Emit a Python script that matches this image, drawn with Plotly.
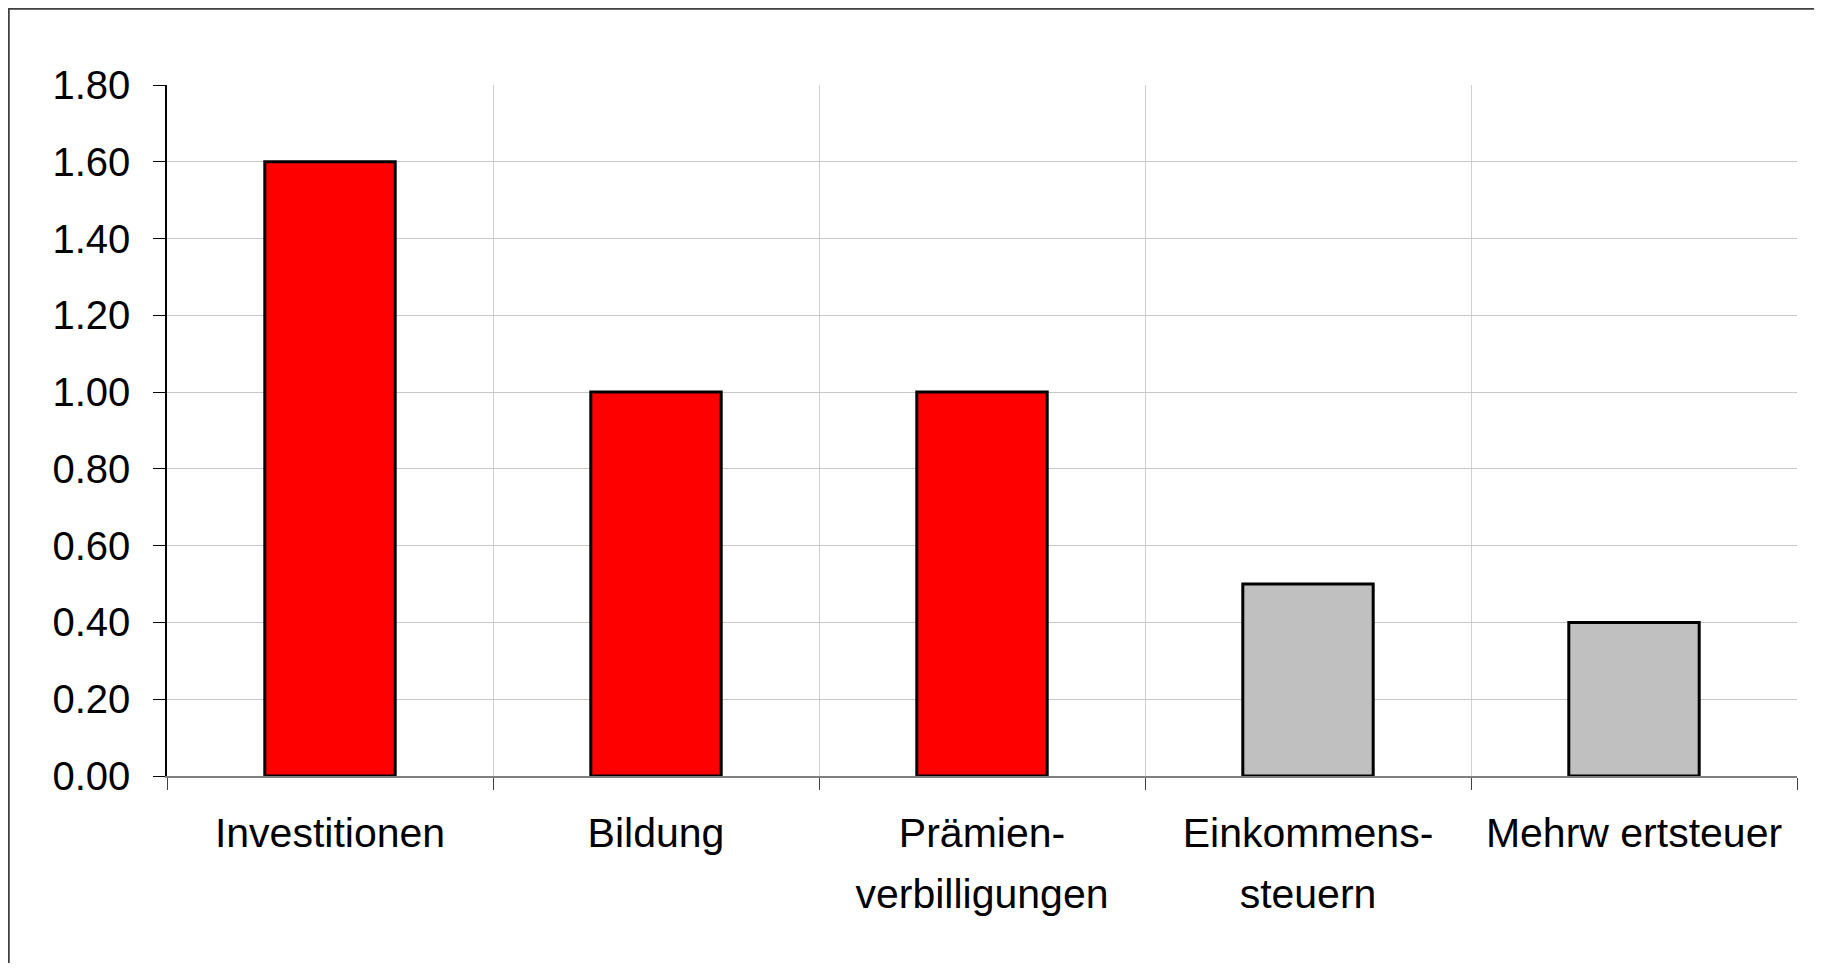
import plotly.graph_objects as go

categories = ["Investitionen", "Bildung", "Prämien-<br>verbilligungen", "Einkommens-<br>steuern", "Mehrw ertsteuer"]
values = [1.60, 1.00, 1.00, 0.50, 0.40]
bar_colors = ["#FF0000", "#FF0000", "#FF0000", "#C0C0C0", "#C0C0C0"]
y_ticks = [0.0, 0.2, 0.4, 0.6, 0.8, 1.0, 1.2, 1.4, 1.6, 1.8]

first_lines = [c.split("<br>")[0] for c in categories]
second_lines = [c.split("<br>")[1] if "<br>" in c else "" for c in categories]

# page has an 8px body margin
OFF = 8
W, H = 1822 - 2 * OFF, 971 - 2 * OFF
L = 167 - OFF
R = W + OFF - 1797
T = 85 - OFF
B = H + OFF - 776
pw, ph = W - L - R, H - T - B

fig = go.Figure()
fig.add_trace(go.Bar(
    x=first_lines, y=values,
    marker=dict(color=bar_colors, line=dict(color="black", width=3)),
    width=0.4, hoverinfo="x+y",
))
# invisible companion trace carrying the second label lines
fig.add_trace(go.Bar(
    x=first_lines, y=[0] * len(values), xaxis="x2",
    marker=dict(color="rgba(0,0,0,0)", line=dict(width=0)),
    hoverinfo="skip", showlegend=False,
))

fig.update_layout(
    width=W, height=H,
    margin=dict(l=L, r=R, t=T, b=B),
    paper_bgcolor="white", plot_bgcolor="white",
    font=dict(family="Liberation Sans, Arial, sans-serif", size=40, color="black"),
    showlegend=False,
    bargap=0.6,
    shapes=[dict(
        type="rect", xref="paper", yref="paper",
        x0=(0.5 - L) / pw, x1=(W + 20 - L) / pw,
        y0=-(B + 20) / ph, y1=1 + (T - 0.5) / ph,
        line=dict(color="#404040", width=2.5), fillcolor="rgba(0,0,0,0)", layer="below",
    )],
    xaxis=dict(
        type="category", tickson="boundaries",
        categoryorder="array", categoryarray=first_lines, range=[-0.5, 4.5],
        showline=True, linecolor="#808080", linewidth=1.5,
        ticks="outside", ticklen=12, tickcolor="#404040", tickwidth=1,
        showgrid=True, gridcolor="#D0D0D0", gridwidth=1,
        tickfont=dict(size=41), ticklabelstandoff=20,
    ),
    xaxis2=dict(
        type="category", overlaying="x", anchor="y", side="bottom",
        categoryorder="array", categoryarray=first_lines, range=[-0.5, 4.5],
        tickvals=first_lines, ticktext=second_lines,
        showline=False, showgrid=False, zeroline=False, ticks="",
        tickfont=dict(size=41), ticklabelstandoff=90,
    ),
    yaxis=dict(
        range=[0, 1.8], tickvals=y_ticks, tickformat=".2f",
        showline=True, linecolor="black", linewidth=1.5,
        ticks="outside", ticklen=12, tickcolor="black", tickwidth=1,
        showgrid=True, gridcolor="#C8C8C8", gridwidth=1,
        zeroline=False,
        tickfont=dict(size=40), ticklabelstandoff=15,
    ),
)

fig.write_html("out.html")
